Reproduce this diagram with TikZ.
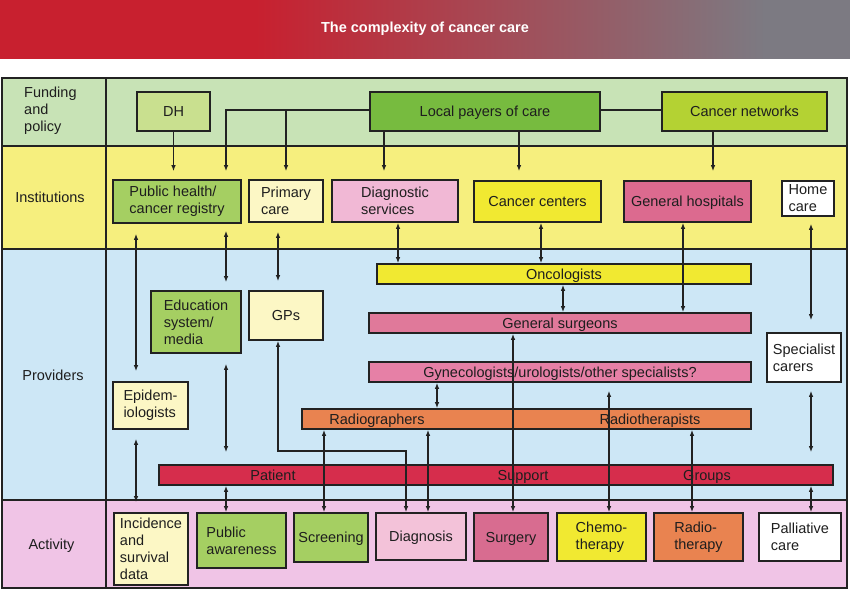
\documentclass[tikz,border=0pt]{standalone}
\usepackage{fontspec}
\setmainfont{Liberation Sans}
\usetikzlibrary{arrows.meta}
\definecolor{ln}{HTML}{222222}
\definecolor{txt}{HTML}{1E1E1E}
\definecolor{hdrRed}{HTML}{C8202F}
\definecolor{hdrGray}{HTML}{7C7A82}
\definecolor{rFund}{HTML}{C8E3B6}
\definecolor{rInst}{HTML}{F6EF7E}
\definecolor{rProv}{HTML}{CDE7F6}
\definecolor{rAct}{HTML}{F0C4E6}
\definecolor{cDH}{HTML}{C9E08F}
\definecolor{cLP}{HTML}{77BB3F}
\definecolor{cCN}{HTML}{B4D233}
\definecolor{cGreen}{HTML}{A5CF62}
\definecolor{cCream}{HTML}{FCF7C5}
\definecolor{cPinkL}{HTML}{F1B8D5}
\definecolor{cPinkD}{HTML}{F3C2D9}
\definecolor{cYel}{HTML}{F1E931}
\definecolor{cGH}{HTML}{DC6A8F}
\definecolor{cGS}{HTML}{E0799A}
\definecolor{cGyn}{HTML}{E680A6}
\definecolor{cSurg}{HTML}{D86C90}
\definecolor{cOra}{HTML}{E98350}
\definecolor{cPSG}{HTML}{D62D4C}
\pgfdeclarehorizontalshading{hdrshade}{100bp}{color(0bp)=(hdrRed); color(40bp)=(hdrRed); color(70bp)=(hdrGray); color(100bp)=(hdrGray)}
\begin{document}
\begin{tikzpicture}[x=1pt,y=-1pt,
  every node/.style={font=\fontsize{14.5}{17}\selectfont, text=txt},
  box/.style={draw=ln, line width=1.6pt, inner sep=2pt, align=left},
  bar/.style={draw=ln, line width=1.6pt, inner sep=0pt},
  one/.style={text height=10.5pt, text depth=0pt},
  con/.style={line width=1.3pt, draw=ln},
  arr/.style={con, -{Latex[length=6pt,width=4.5pt]}},
  darr/.style={con, {Latex[length=6pt,width=4.5pt]}-{Latex[length=6pt,width=4.5pt]}},
  rowline/.style={draw=ln, line width=2pt}
]
\useasboundingbox (0,0) rectangle (850,590);
\fill[white] (0,0) rectangle (850,590);
% header
\shade[shading=hdrshade] (0,0) rectangle (850,58);
\node[font=\bfseries\fontsize{14.5}{17}\selectfont, text=white] (title) at (425,29) {The complexity of cancer care};
% rows
\fill[rFund] (2,78) rectangle (847,146);
\fill[rInst] (2,146) rectangle (847,249);
\fill[rProv] (2,249) rectangle (847,500);
\fill[rAct] (2,500) rectangle (847,588);
\draw[rowline] (2,78) rectangle (847,588);
\draw[rowline] (2,146) -- (847,146);
\draw[rowline] (2,249) -- (847,249);
\draw[rowline] (2,500) -- (847,500);
\draw[rowline] (106,78) -- (106,588);
% row labels
\node[anchor=west, align=left, inner sep=0pt] (lfund) at (24,111) {Funding\\and\\policy};
\node[inner sep=0pt, one] (linst) at (50,197) {Institutions};
\node[inner sep=0pt, one] (lprov) at (53,375) {Providers};
\node[inner sep=0pt, one] (lact) at (51.5,544) {Activity};
% funding
\node[box, one, fill=cDH, minimum width=73pt, minimum height=39pt] (dh) at (173.5,111.5) {DH};
\node[box, one, fill=cLP, minimum width=230pt, minimum height=39pt] (lp) at (485,111.5) {Local payers of care};
\node[box, one, fill=cCN, minimum width=165pt, minimum height=39pt] (cn) at (744.5,111.5) {Cancer networks};
% institutions
\node[box, fill=cGreen, minimum width=128pt, minimum height=43pt] (ph) at (177,201.5) {Public health/\\cancer registry};
\node[box, fill=cCream, minimum width=74pt, minimum height=42pt] (pc) at (286,201) {Primary\\care};
\node[box, fill=cPinkL, minimum width=126pt, minimum height=42pt] (ds) at (395,201) {Diagnostic\\services};
\node[box, one, fill=cYel, minimum width=127pt, minimum height=41pt] (cc) at (537.5,201.5) {Cancer centers};
\node[box, one, fill=cGH, minimum width=127pt, minimum height=41pt] (gh) at (687.5,201.5) {General hospitals};
\node[box, fill=white, minimum width=52pt, minimum height=35pt, inner sep=1pt] (hc) at (808,198.5) {Home\\care};
% providers
\node[bar, one, fill=cYel, minimum width=374pt, minimum height=20pt] (onc) at (564,274) {Oncologists};
\node[bar, one, fill=cGS, minimum width=382pt, minimum height=20pt] (gs) at (560,323) {General surgeons};
\node[bar, one, fill=cGyn, minimum width=382pt, minimum height=20pt] (gyn) at (560,372) {Gynecologists/urologists/other specialists?};
\node[bar, fill=cOra, minimum width=449pt, minimum height=20pt] (rad) at (526.5,419) {};
\node[one, inner sep=0pt] (radg) at (377,419) {Radiographers};
\node[one, inner sep=0pt] (radt) at (650,419) {Radiotherapists};
\node[bar, fill=cPSG, minimum width=674pt, minimum height=20pt] (psg) at (496,475) {};
\node[one, inner sep=0pt] (psgA) at (273,475) {Patient};
\node[one, inner sep=0pt] (psgB) at (523,475) {Support};
\node[one, inner sep=0pt] (psgC) at (707,475) {Groups};
\node[box, fill=cGreen, minimum width=90pt, minimum height=62pt] (edu) at (196,322) {Education\\system/\\media};
\node[box, one, fill=cCream, minimum width=74pt, minimum height=49pt] (gps) at (286,315.5) {GPs};
\node[box, fill=cCream, minimum width=75pt, minimum height=47pt] (epi) at (150.5,405.5) {Epidem-\\iologists};
\node[box, fill=white, minimum width=74pt, minimum height=49pt] (sc) at (804,357.5) {Specialist\\carers};
% activity
\node[box, fill=cCream, minimum width=74pt, minimum height=72pt, inner sep=1pt] (inc) at (151,549) {Incidence\\and\\survival\\data};
\node[box, fill=cGreen, minimum width=89pt, minimum height=55pt] (pa) at (241.5,540.5) {Public\\awareness};
\node[box, one, fill=cGreen, minimum width=74pt, minimum height=49pt, inner sep=1pt] (scr) at (331,537.5) {Screening};
\node[box, one, fill=cPinkD, minimum width=90pt, minimum height=47pt] (diag) at (421,536.5) {Diagnosis};
\node[box, one, fill=cSurg, minimum width=74pt, minimum height=48pt] (surg) at (511,537) {Surgery};
\node[box, fill=cYel, minimum width=89pt, minimum height=48pt] (chemo) at (601.5,537) {Chemo-\\therapy};
\node[box, fill=cOra, minimum width=89pt, minimum height=48pt] (rthy) at (698.5,537) {Radio-\\therapy};
\node[box, fill=white, minimum width=82pt, minimum height=48pt] (pal) at (800,537) {Palliative\\care};
% helper coordinates
\coordinate (v136) at (136,0);
\coordinate (v226) at (226,0);
\coordinate (v278) at (278,0);
\coordinate (v324) at (324,0);
\coordinate (v384) at (384,0);
\coordinate (v398) at (398,0);
\coordinate (v428) at (428,0);
\coordinate (v437) at (437,0);
\coordinate (v513) at (513,0);
\coordinate (v519) at (519,0);
\coordinate (v541) at (541,0);
\coordinate (v563) at (563,0);
\coordinate (v609) at (609,0);
\coordinate (v683) at (683,0);
\coordinate (v692) at (692,0);
\coordinate (v713) at (713,0);
\coordinate (v811) at (811,0);
\coordinate (h110) at (0,110);
\coordinate (bend) at (406,451);
% funding connectors
\draw[arr, shorten >=8pt] (dh.south) -- (dh.south |- ph.north);
\draw[arr, shorten >=8pt] (lp.west |- h110) -| (ph.north -| v226);
\draw[arr, shorten >=8pt] (pc.north |- h110) -- (pc.north);
\draw[arr, shorten >=8pt] (lp.south -| v384) -- (ds.north -| v384);
\draw[arr, shorten >=9pt] (lp.south -| v519) -- (cc.north -| v519);
\draw[con] (lp.east |- h110) -- (cn.west |- h110);
\draw[arr, shorten >=9pt] (cn.south -| v713) -- (gh.north -| v713);
% other connectors
\draw[darr, shorten <=10pt, shorten >=10pt] (ph.south -| v136) -- (epi.north -| v136);
\draw[darr, shorten <=9pt, shorten >=10pt] (epi.south -| v136) -- (inc.north -| v136);
\draw[darr, shorten <=7pt, shorten >=8pt] (ph.south -| v226) -- (edu.north -| v226);
\draw[darr, shorten <=9pt, shorten >=9pt] (pc.south -| v278) -- (gps.north -| v278);
\draw[darr, shorten <=10pt, shorten >=12pt] (edu.south -| v226) -- (psg.north -| v226);
\draw[darr] (psg.south -| v226) -- (pa.north -| v226);
\draw[darr] (gps.south -| v278) |- (bend) -- (diag.north -| bend);
\draw[darr] (rad.south -| v324) -- (scr.north -| v324);
\draw[darr] (rad.south -| v428) -- (diag.north -| v428);
\draw[darr] (gyn.south -| v437) -- (rad.north -| v437);
\draw[darr] (gs.south -| v513) -- (surg.north -| v513);
\draw[darr, shorten <=8pt] (gyn.south -| v609) -- (chemo.north -| v609);
\draw[darr] (rad.south -| v692) -- (rthy.north -| v692);
\draw[darr, shorten <=7pt, shorten >=12pt] (hc.south -| v811) -- (sc.north -| v811);
\draw[darr, shorten <=8pt, shorten >=12pt] (sc.south -| v811) -- (psg.north -| v811);
\draw[darr] (psg.south -| v811) -- (pal.north -| v811);
\draw[darr] (ds.south -| v398) -- (onc.north -| v398);
\draw[darr] (cc.south -| v541) -- (onc.north -| v541);
\draw[darr] (gh.south -| v683) -- (gs.north -| v683);
\draw[darr] (onc.south -| v563) -- (gs.north -| v563);
\end{tikzpicture}
\end{document}
